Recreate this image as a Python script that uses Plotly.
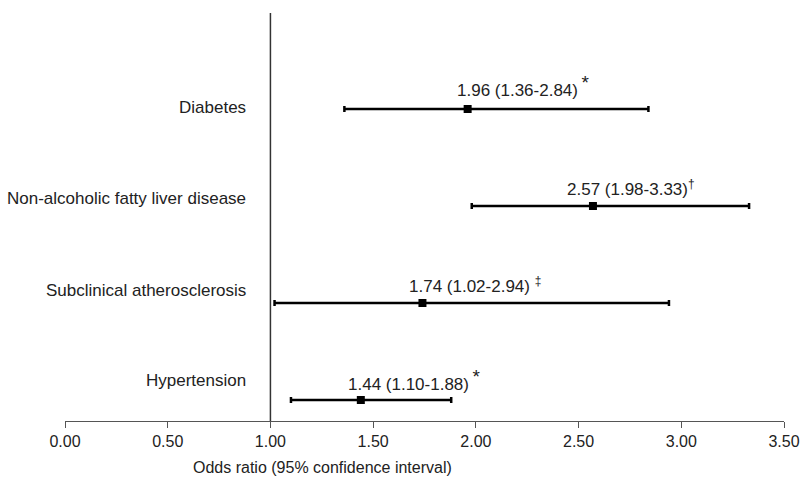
import plotly.graph_objects as go

categories = ["Diabetes", "Non-alcoholic fatty liver disease", "Subclinical atherosclerosis", "Hypertension"]
odds = [1.96, 2.57, 1.74, 1.44]
lower = [1.36, 1.98, 1.02, 1.10]
upper = [2.84, 3.33, 2.94, 1.88]
marks = ["\u2009<sup><span style='font-size:19px'>*</span></sup>", "<sup>†</sup>",
         " <sup>‡</sup>", "\u2009<sup><span style='font-size:19px'>*</span></sup>"]
tick_vals = [0, 0.5, 1, 1.5, 2, 2.5, 3, 3.5]

rows = [4, 3, 2, 1]
label_shift = [2, 8, 13, 20]
text_xshift = [-13, -28, -15, -15]
text_yshift = [23, 18, 18, 20]

FONT = "Liberation Sans, Arial, sans-serif"

fig = go.Figure()
fig.add_trace(go.Scatter(
    x=odds, y=rows, mode="markers",
    marker=dict(symbol="square", size=8, color="black"),
    error_x=dict(type="data", symmetric=False,
                 array=[u - o for u, o in zip(upper, odds)],
                 arrayminus=[o - l for o, l in zip(odds, lower)],
                 color="black", thickness=2.5, width=3),
    showlegend=False, hoverinfo="skip",
))

fig.add_shape(type="line", xref="x", yref="paper", x0=1, x1=1, y0=0, y1=1,
              line=dict(color="#333333", width=1.5))

ann = []
for c, r, s in zip(categories, rows, label_shift):
    ann.append(dict(text=c, xref="paper", yref="y", x=(248 - 65) / 719, y=r,
                    xanchor="right", yanchor="middle", yshift=s, showarrow=False,
                    font=dict(size=17, color="#222222", family=FONT)))
for o, l, u, m, r, xs, ys in zip(odds, lower, upper, marks, rows, text_xshift, text_yshift):
    ann.append(dict(text=f"{o:.2f} ({l:.2f}-{u:.2f}){m}", xref="x", yref="y", x=o, y=r,
                    xanchor="left", yanchor="middle", xshift=xs, yshift=ys, showarrow=False,
                    font=dict(size=17, color="#222222", family=FONT)))
ann.append(dict(text="Odds ratio (95% confidence interval)", xref="paper", yref="paper",
                x=(322 - 65) / 719, y=(421 - 467) / 408, xanchor="center", yanchor="middle",
                showarrow=False, font=dict(size=16, color="#222222", family=FONT)))

fig.update_layout(
    width=802, height=485,
    margin=dict(l=65, r=18, t=13, b=64, autoexpand=False),
    paper_bgcolor="white", plot_bgcolor="white",
    annotations=ann,
    xaxis=dict(range=[0, 3.5], tickvals=tick_vals, tickformat=".2f", automargin=False,
               showline=True, linecolor="#555555", linewidth=1.2,
               ticks="outside", ticklen=6, tickcolor="#555555", tickwidth=1.2,
               showgrid=False, zeroline=False,
               tickfont=dict(size=16, color="#222222", family=FONT)),
    yaxis=dict(range=[0.7835, 4.99], visible=False, showgrid=False, zeroline=False,
               automargin=False),
)

fig.write_html("out.html", config={"displayModeBar": False},
               post_script="document.body.style.margin='0';document.body.style.overflow='hidden';")
